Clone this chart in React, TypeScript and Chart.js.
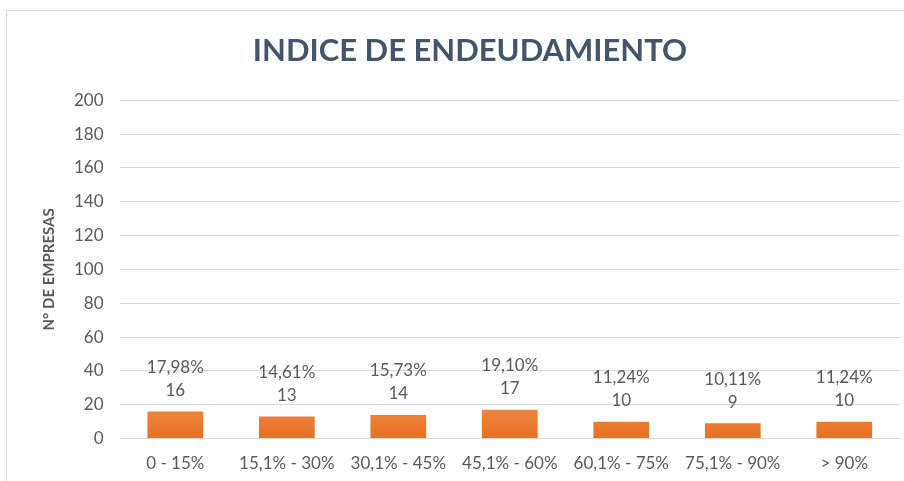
import React, { useEffect, useRef } from "react";
import { Chart, registerables } from "chart.js";

Chart.register(...registerables);

const categories = ["0 - 15%", "15,1% - 30%", "30,1% - 45%", "45,1% - 60%", "60,1% - 75%", "75,1% - 90%", "> 90%"];
const counts = [16, 13, 14, 17, 10, 9, 10];
const percents = ["17,98%", "14,61%", "15,73%", "19,10%", "11,24%", "10,11%", "11,24%"];
const yMax = 200;
const yStep = 20;

const FONT = "Lato, 'Open Sans', sans-serif";
const GRAY = "#595959";

const labelPlugin = {
  id: "twoLineLabels",
  afterDatasetsDraw(chart: any) {
    const ctx = chart.ctx;
    const meta = chart.getDatasetMeta(0);
    ctx.save();
    ctx.fillStyle = GRAY;
    ctx.font = `17px ${FONT}`;
    ctx.textAlign = "center";
    ctx.textBaseline = "middle";
    meta.data.forEach((bar: any, i: number) => {
      ctx.fillText(String(counts[i]), bar.x, bar.y - 21);
      ctx.fillText(percents[i], bar.x, bar.y - 44);
    });
    ctx.restore();
  },
};

export default function App() {
  const ref = useRef<HTMLCanvasElement | null>(null);
  useEffect(() => {
    if (!ref.current) return;
    const chart = new Chart(ref.current, {
      type: "bar",
      data: {
        labels: categories,
        datasets: [
          {
            data: counts,
            backgroundColor: (c: any) => {
              const { chart } = c;
              const area = chart.chartArea;
              if (!area) return "#ED7D31";
              const g = chart.ctx.createLinearGradient(0, area.bottom - 40, 0, area.bottom);
              g.addColorStop(0, "#F08C4F");
              g.addColorStop(1, "#E8701F");
              return g;
            },
            barPercentage: 0.5,
            categoryPercentage: 1,
          },
        ],
      },
      options: {
        animation: false,
        responsive: false,
        maintainAspectRatio: false,
        layout: { padding: { top: 32, left: 40, right: 4, bottom: 6 } },
        plugins: {
          legend: { display: false },
          tooltip: { enabled: false },
          title: {
            display: true,
            text: "INDICE DE ENDEUDAMIENTO",
            color: "#44546A",
            font: { family: FONT, size: 31, weight: "bold" },
            padding: { top: 0, bottom: 31 },
          },
        },
        scales: {
          x: {
            grid: { display: false, drawTicks: false },
            border: { display: false },
            ticks: { color: GRAY, font: { family: FONT, size: 17 }, padding: 15, maxRotation: 0 },
          },
          y: {
            min: 0,
            max: yMax,
            border: { display: false },
            grid: { color: "#D9D9D9", drawTicks: false },
            ticks: { stepSize: yStep, color: GRAY, font: { family: FONT, size: 17 }, padding: 16 },
            title: {
              display: true,
              text: "N° DE EMPRESAS",
              color: GRAY,
              font: { family: FONT, size: 15, weight: "bold" },
              padding: 0,
            },
          },
        },
      },
      plugins: [labelPlugin],
    });
    return () => chart.destroy();
  }, []);
  return (
    <div style={{ position: "fixed", left: 0, top: 0, width: 904, height: 481, background: "#fff", overflow: "hidden" }}>
      <div
        style={{
          position: "absolute",
          left: 6,
          top: 10,
          width: 910,
          height: 490,
          border: "1px solid #D9D9D9",
          boxSizing: "border-box",
        }}
      />
      <canvas ref={ref} width={904} height={495} style={{ position: "absolute", left: 0, top: 0 }} />
    </div>
  );
}
